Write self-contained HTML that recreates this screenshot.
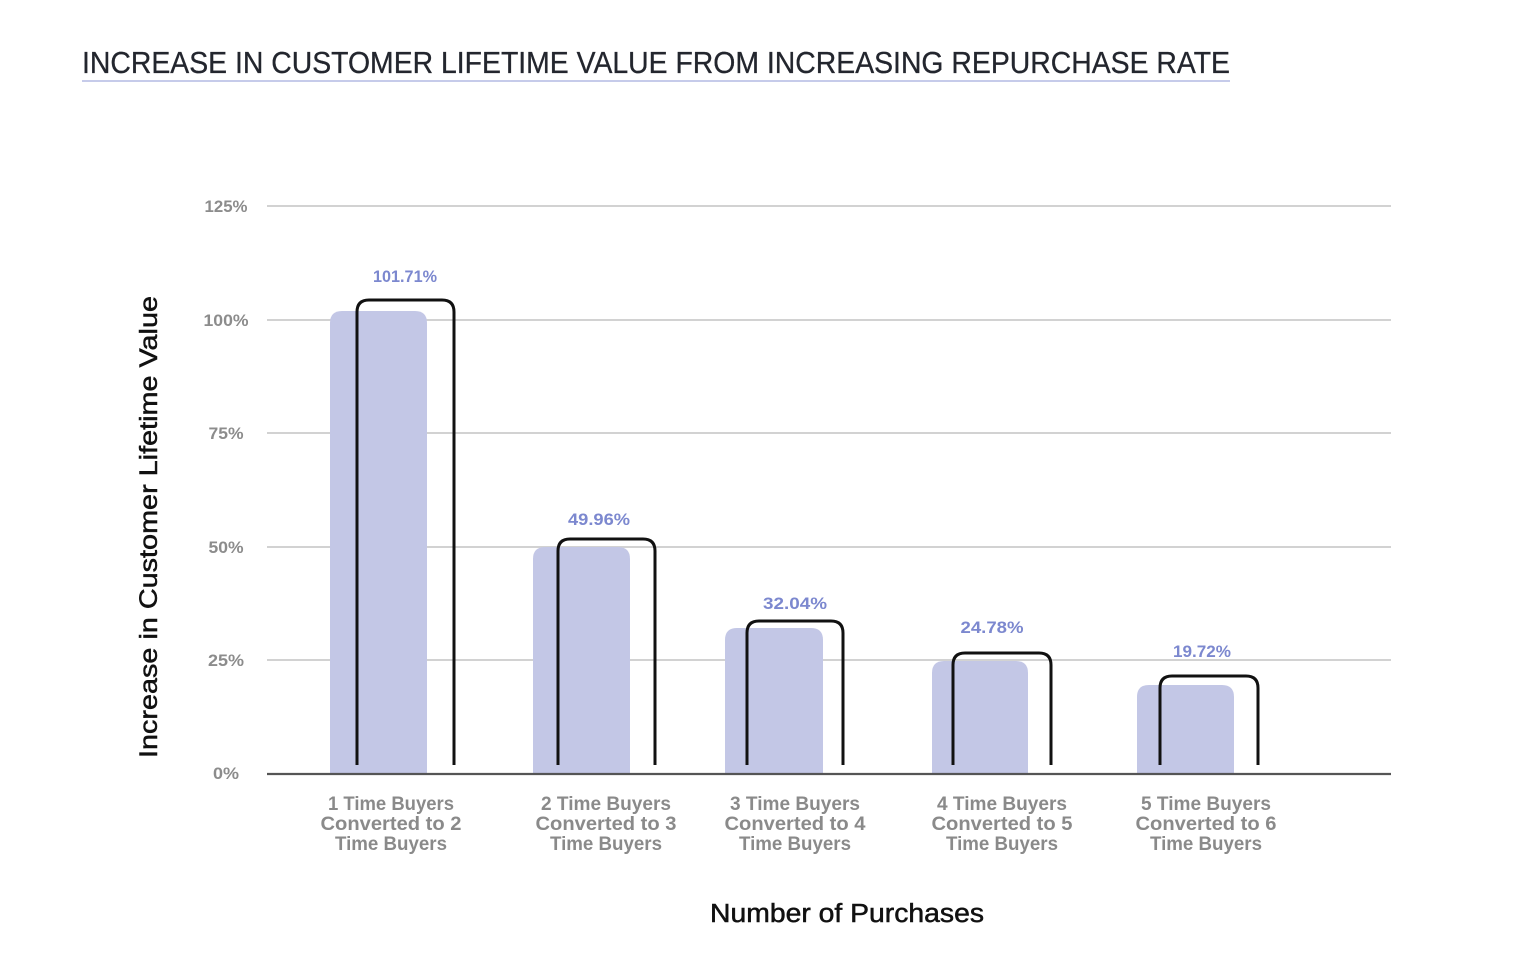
<!DOCTYPE html>
<html><head><meta charset="utf-8"><style>
html,body{margin:0;padding:0;background:#fff;}
svg{display:block;}
</style></head><body>
<svg width="1536" height="979" viewBox="0 0 1536 979" xmlns="http://www.w3.org/2000/svg" font-family="Liberation Sans, Arial, sans-serif">
<rect width="1536" height="979" fill="#fff"/>
<!-- Title -->
<text x="82" y="73" font-size="31" fill="#23262e" stroke="#23262e" stroke-width="0.3" textLength="1148" lengthAdjust="spacingAndGlyphs">INCREASE IN CUSTOMER LIFETIME VALUE FROM INCREASING REPURCHASE RATE</text>
<rect x="82" y="80" width="1148" height="2" fill="#c6cbea"/>

<!-- gridlines -->
<g stroke="#d2d2d2" stroke-width="2">
<line x1="267" y1="206" x2="1391" y2="206"/>
<line x1="267" y1="320" x2="1391" y2="320"/>
<line x1="267" y1="433" x2="1391" y2="433"/>
<line x1="267" y1="547" x2="1391" y2="547"/>
<line x1="267" y1="660" x2="1391" y2="660"/>
</g>

<!-- tick labels -->
<g font-size="16.5" font-weight="bold" fill="#8c8c8c" text-anchor="middle">
<text x="226" y="212" textLength="43" lengthAdjust="spacingAndGlyphs">125%</text>
<text x="226" y="326" textLength="45" lengthAdjust="spacingAndGlyphs">100%</text>
<text x="226" y="439" textLength="35" lengthAdjust="spacingAndGlyphs">75%</text>
<text x="226" y="553" textLength="35" lengthAdjust="spacingAndGlyphs">50%</text>
<text x="226" y="666" textLength="36" lengthAdjust="spacingAndGlyphs">25%</text>
<text x="226" y="779" textLength="26" lengthAdjust="spacingAndGlyphs">0%</text>
</g>

<!-- bars -->
<g fill="#c3c7e6">
<path d="M330 774 V323 Q330 311 342 311 H415 Q427 311 427 323 V774 Z"/>
<path d="M533 774 V559 Q533 547 545 547 H618 Q630 547 630 559 V774 Z"/>
<path d="M725 774 V640 Q725 628 737 628 H811 Q823 628 823 640 V774 Z"/>
<path d="M932 774 V673 Q932 661 944 661 H1016 Q1028 661 1028 673 V774 Z"/>
<path d="M1137 774 V697 Q1137 685 1149 685 H1222 Q1234 685 1234 697 V774 Z"/>
</g>

<!-- axis line -->
<line x1="267" y1="774" x2="1391" y2="774" stroke="#555" stroke-width="2.2"/>

<!-- brackets -->
<g fill="none" stroke="#111" stroke-width="3" stroke-linecap="butt">
<path d="M357 765 V312 Q357 300 369 300 H442 Q454 300 454 312 V765"/>
<path d="M558 765 V551 Q558 539 570 539 H643 Q655 539 655 551 V765"/>
<path d="M747 765 V633 Q747 621 759 621 H831 Q843 621 843 633 V765"/>
<path d="M953 765 V665 Q953 653 965 653 H1039 Q1051 653 1051 665 V765"/>
<path d="M1160 765 V688 Q1160 676 1172 676 H1246 Q1258 676 1258 688 V765"/>
</g>

<!-- value labels -->
<g font-size="16.5" font-weight="bold" fill="#7c88cf" text-anchor="middle">
<text x="405" y="282" textLength="64" lengthAdjust="spacingAndGlyphs">101.71%</text>
<text x="599" y="525" textLength="62" lengthAdjust="spacingAndGlyphs">49.96%</text>
<text x="795" y="609" textLength="64" lengthAdjust="spacingAndGlyphs">32.04%</text>
<text x="992" y="633" textLength="63" lengthAdjust="spacingAndGlyphs">24.78%</text>
<text x="1202" y="657" textLength="58" lengthAdjust="spacingAndGlyphs">19.72%</text>
</g>

<!-- category labels -->
<g font-size="19" font-weight="bold" fill="#8a8a8a" text-anchor="middle">
<text x="391" y="810" textLength="126" lengthAdjust="spacingAndGlyphs">1 Time Buyers</text>
<text x="391" y="830" textLength="141" lengthAdjust="spacingAndGlyphs">Converted to 2</text>
<text x="391" y="850" textLength="112" lengthAdjust="spacingAndGlyphs">Time Buyers</text>

<text x="606" y="810" textLength="130" lengthAdjust="spacingAndGlyphs">2 Time Buyers</text>
<text x="606" y="830" textLength="141" lengthAdjust="spacingAndGlyphs">Converted to 3</text>
<text x="606" y="850" textLength="112" lengthAdjust="spacingAndGlyphs">Time Buyers</text>

<text x="795" y="810" textLength="130" lengthAdjust="spacingAndGlyphs">3 Time Buyers</text>
<text x="795" y="830" textLength="141" lengthAdjust="spacingAndGlyphs">Converted to 4</text>
<text x="795" y="850" textLength="112" lengthAdjust="spacingAndGlyphs">Time Buyers</text>

<text x="1002" y="810" textLength="130" lengthAdjust="spacingAndGlyphs">4 Time Buyers</text>
<text x="1002" y="830" textLength="141" lengthAdjust="spacingAndGlyphs">Converted to 5</text>
<text x="1002" y="850" textLength="112" lengthAdjust="spacingAndGlyphs">Time Buyers</text>

<text x="1206" y="810" textLength="130" lengthAdjust="spacingAndGlyphs">5 Time Buyers</text>
<text x="1206" y="830" textLength="141" lengthAdjust="spacingAndGlyphs">Converted to 6</text>
<text x="1206" y="850" textLength="112" lengthAdjust="spacingAndGlyphs">Time Buyers</text>
</g>

<!-- axis titles -->
<text x="847" y="922" font-size="25.5" fill="#111" stroke="#111" stroke-width="0.5" text-anchor="middle" textLength="274" lengthAdjust="spacingAndGlyphs">Number of Purchases</text>
<text transform="translate(157,527) rotate(-90)" x="0" y="0" font-size="25" fill="#111" stroke="#111" stroke-width="0.5" text-anchor="middle" textLength="462" lengthAdjust="spacingAndGlyphs">Increase in Customer Lifetime Value</text>
</svg>
</body></html>
